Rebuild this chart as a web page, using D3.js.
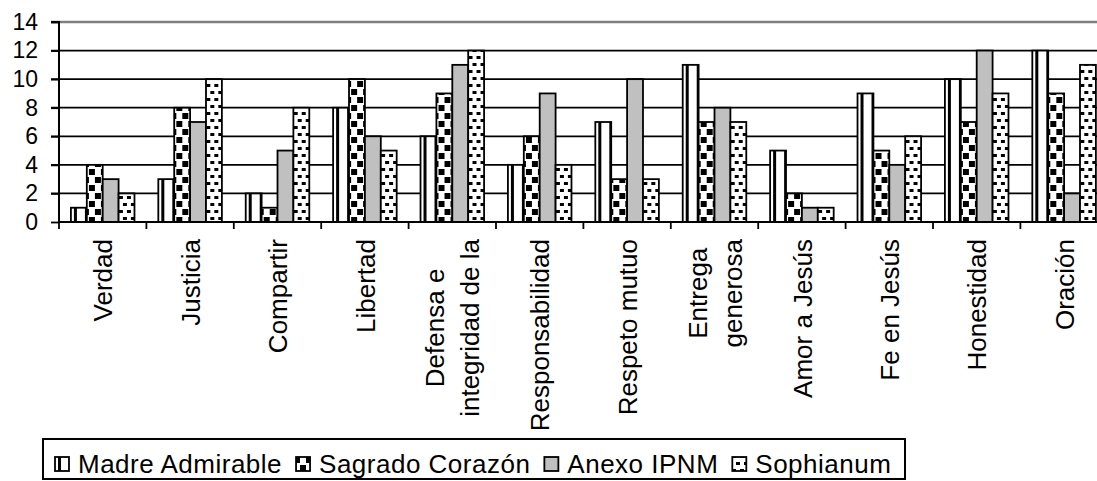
<!DOCTYPE html>
<html><head><meta charset="utf-8">
<script src="https://cdn.jsdelivr.net/npm/d3@7"></script>
<style>
html,body{margin:0;padding:0;background:#fff;}
svg{display:block;font-family:"Liberation Sans",Arial,sans-serif;}
</style></head>
<body>
<svg id="chart" width="1097" height="481"></svg>
<script>
const categories = ["Verdad","Justicia","Compartir","Libertad","Defensa e\nintegridad de la","Responsabilidad","Respeto mutuo","Entrega\ngenerosa","Amor a Jesús","Fe en Jesús","Honestidad","Oración"];
const seriesNames = ["Madre Admirable","Sagrado Corazón","Anexo IPNM","Sophianum"];
const madreAdmirable = [1,3,2,8,6,4,7,11,5,9,10,12];
const sagradoCorazon = [4,8,1,10,9,6,3,7,2,5,7,9];
const anexoIPNM      = [3,7,5,6,11,9,10,8,1,4,12,2];
const sophianum      = [2,10,8,5,12,4,3,7,1,6,9,11];
const yTicks = [0,2,4,6,8,10,12,14];

(function(){
const seriesValues = [madreAdmirable, sagradoCorazon, anexoIPNM, sophianum];
const svg = d3.select("#chart");

// patterns
const defs = svg.append("defs");
const pMadre = defs.append("pattern").attr("id","pMadre").attr("patternUnits","userSpaceOnUse").attr("width",11).attr("height",4);
pMadre.append("rect").attr("width",11).attr("height",4).attr("fill","#fff");
pMadre.append("rect").attr("x",3).attr("width",3).attr("height",4).attr("fill","#000");
const pSag = defs.append("pattern").attr("id","pSag").attr("patternUnits","userSpaceOnUse").attr("width",12).attr("height",16);
pSag.append("rect").attr("width",12).attr("height",16).attr("fill","#fff");
pSag.append("rect").attr("x",0).attr("y",1).attr("width",6).attr("height",6).attr("fill","#000");
pSag.append("rect").attr("x",6).attr("y",9).attr("width",6).attr("height",6).attr("fill","#000");
const pSoph = defs.append("pattern").attr("id","pSoph").attr("patternUnits","userSpaceOnUse").attr("width",8).attr("height",14);
pSoph.append("rect").attr("width",8).attr("height",14).attr("fill","#fff");
pSoph.append("rect").attr("x",0).attr("y",0).attr("width",4).attr("height",3).attr("fill","#000");
pSoph.append("rect").attr("x",4).attr("y",7).attr("width",4).attr("height",3).attr("fill","#000");
const fills = ["url(#pMadre)","url(#pSag)","#c0c0c0","url(#pSoph)"];

const mLeft = 59, mTop = 22, mBottom = 222, step = 87.4;
const x = d3.scaleBand().domain(categories).range([mLeft, mLeft + step*categories.length]).paddingInner(1.5/5.5).paddingOuter(0.75/5.5);
const xs = d3.scaleBand().domain(d3.range(4)).range([0, x.bandwidth()]);
const y = d3.scaleLinear().domain([0,14]).range([mBottom, mTop]);

// gridlines
svg.append("g").selectAll("line").data(yTicks.filter(d=>d>0)).join("line")
  .attr("x1",mLeft-8).attr("x2",1097).attr("y1",d=>y(d)).attr("y2",d=>y(d))
  .attr("stroke",d=>d===14?"#808080":"#000").attr("stroke-width",d=>d===14?2.5:1.8);

// y axis
const yAxis = d3.axisLeft(y).tickValues(yTicks).tickSize(8).tickPadding(13).tickFormat(d3.format("d"));
const gy = svg.append("g").attr("transform",`translate(${mLeft},0)`).call(yAxis);
gy.select(".domain").attr("stroke","#000").attr("stroke-width",2).attr("d",`M-8,${mTop}H0V${mBottom}`);
gy.selectAll(".tick line").attr("stroke","#000").attr("stroke-width",1.8);
gy.selectAll(".tick text").attr("font-size",23).attr("fill","#000").attr("font-family","Liberation Sans, Arial, sans-serif");

// bars
const groups = svg.append("g").selectAll("g").data(categories).join("g")
  .attr("transform",c=>`translate(${x(c)},0)`);
groups.selectAll("rect").data((c,i)=>seriesValues.map((s,k)=>({k, v:s[i]}))).join("rect")
  .attr("x",d=>xs(d.k)).attr("width",xs.bandwidth())
  .attr("y",d=>y(d.v)).attr("height",d=>mBottom-y(d.v))
  .attr("fill",d=>fills[d.k]).attr("stroke","#000").attr("stroke-width",1.8);

// x axis
svg.append("line").attr("x1",mLeft).attr("x2",1097).attr("y1",mBottom).attr("y2",mBottom).attr("stroke","#000").attr("stroke-width",2);
svg.append("g").selectAll("line").data(d3.range(categories.length+1)).join("line")
  .attr("x1",i=>mLeft+i*step).attr("x2",i=>mLeft+i*step).attr("y1",mBottom).attr("y2",mBottom+7)
  .attr("stroke","#000").attr("stroke-width",1.8);

// category labels
const fs = 26, lh = 35, anchorY = 239;
categories.forEach(c=>{
  const lines = c.split("\n");
  const cx = x(c) + x.bandwidth()/2;
  const g = svg.append("g").attr("transform",`translate(${cx},${anchorY}) rotate(-90)`);
  const texts = lines.map((t,i)=> g.append("text").attr("font-size",fs).attr("fill","#000")
     .attr("text-anchor","middle")
     .attr("y",(i-(lines.length-1)/2)*lh).attr("dy","0.37em").text(t));
  const maxW = d3.max(texts, t=>t.node().getComputedTextLength());
  texts.forEach(t=>t.attr("x",-maxW/2));
});

// legend
const lg = svg.append("g");
lg.append("rect").attr("x",43).attr("y",439).attr("width",862).attr("height",40).attr("fill","#fff").attr("stroke","#000").attr("stroke-width",2);
let lx = 55;
seriesNames.forEach((n,k)=>{
  lg.append("rect").attr("x",lx).attr("y",457).attr("width",14).attr("height",14).attr("fill",fills[k]).attr("stroke","#000").attr("stroke-width",1.8);
  const t = lg.append("text").attr("x",lx+23).attr("y",473).attr("font-size",26).attr("letter-spacing","0.5px").attr("fill","#000").text(n);
  lx += 23 + t.node().getComputedTextLength() + 14;
});
})();
</script>
</body></html>
